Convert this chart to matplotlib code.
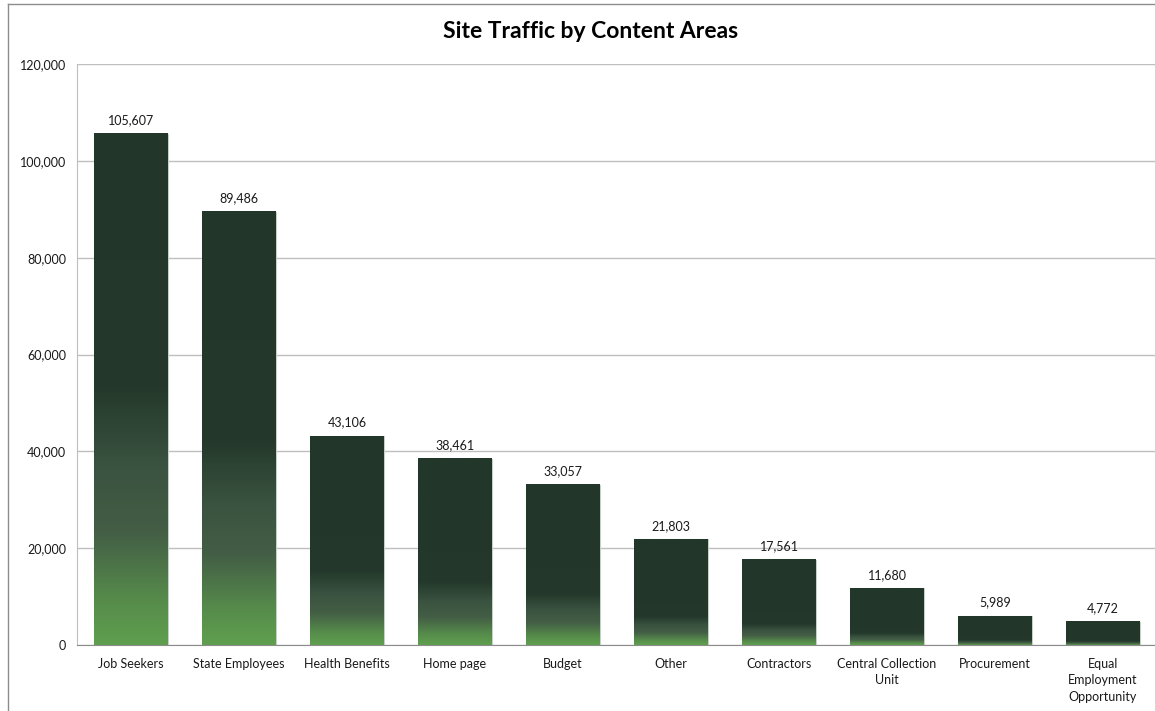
import matplotlib.pyplot as plt
import numpy as np
from matplotlib.colors import LinearSegmentedColormap
from matplotlib.lines import Line2D

categories = ["Job Seekers", "State Employees", "Health Benefits", "Home page",
              "Budget", "Other", "Contractors", "Central Collection\nUnit",
              "Procurement", "Equal\nEmployment\nOpportunity"]
visits = [105607, 89486, 43106, 38461, 33057, 21803, 17561, 11680, 5989, 4772]
yticks = [0, 20000, 40000, 60000, 80000, 100000, 120000]

plt.rcParams['font.family'] = ['Lato', 'DejaVu Sans']

# bottom (0) -> top (1) of each bar
cmap = LinearSegmentedColormap.from_list("bar", [
    (0.0, "#5f9f4f"), (0.08, "#578d4b"), (0.22, "#435e45"),
    (0.35, "#3a5240"), (0.5, "#24392b"), (1.0, "#22372a")])

fig = plt.figure(figsize=(11.55, 7.11), dpi=100)
ax = fig.add_axes([0.0667, 0.0928, 0.935, 0.8172])

x = np.arange(len(categories))
bars = ax.bar(x, visits, width=0.68, color='none', edgecolor='none', zorder=3)

hmax = max(visits)
for b, v in zip(bars, visits):
    x0, w, h = b.get_x(), b.get_width(), b.get_height()
    # shorter bars get their light band squeezed toward the bottom
    s = (h / hmax) ** 0.4
    grad = np.clip(np.linspace(0, 1, 256) / s, 0, 1).reshape(-1, 1)
    ax.imshow(grad, extent=[x0, x0 + w, 0, h], origin='lower', cmap=cmap,
              vmin=0, vmax=1, aspect='auto', zorder=3, interpolation='bicubic')
    ax.add_patch(plt.Rectangle((x0, 0), w, h, fill=False, edgecolor='#c8cec8',
                               linewidth=0.8, zorder=2))
    ax.text(x0 + w / 2, h + 1600, f"{v:,}", ha='center', va='bottom',
            fontsize=9, color='#1a1a1a', zorder=4)

ax.set_xlim(-0.5, len(categories) - 0.5)
ax.set_ylim(0, 120000)
ax.set_yticks(yticks)
ax.set_yticklabels([f"{t:,}" for t in yticks])
ax.set_xticks(x)
ax.set_xticklabels(categories, fontsize=9, color='#1a1a1a', linespacing=1.45)
ax.tick_params(axis='y', labelsize=9, labelcolor='#1a1a1a', length=0, pad=8)
ax.tick_params(axis='x', length=0, pad=9)
ax.grid(axis='y', color='#bfbfbf', linewidth=1)
ax.set_axisbelow(True)
for s in ['top', 'right']:
    ax.spines[s].set_visible(False)
ax.spines['left'].set_color('#bfbfbf')
ax.spines['bottom'].set_color('#8c8c8c')

fig.text(0.511, 0.955, "Site Traffic by Content Areas", ha='center', va='center',
         fontsize=16.5, fontweight='bold', color='#000000')

# outer chart border (clipped at right and bottom)
fig.add_artist(Line2D([8 / 1155, 8 / 1155], [0, 1 - 4 / 711], color='#8c8c8c', linewidth=1))
fig.add_artist(Line2D([8 / 1155, 1], [1 - 4 / 711, 1 - 4 / 711], color='#8c8c8c', linewidth=1))

fig.savefig("out.png", dpi=100)
